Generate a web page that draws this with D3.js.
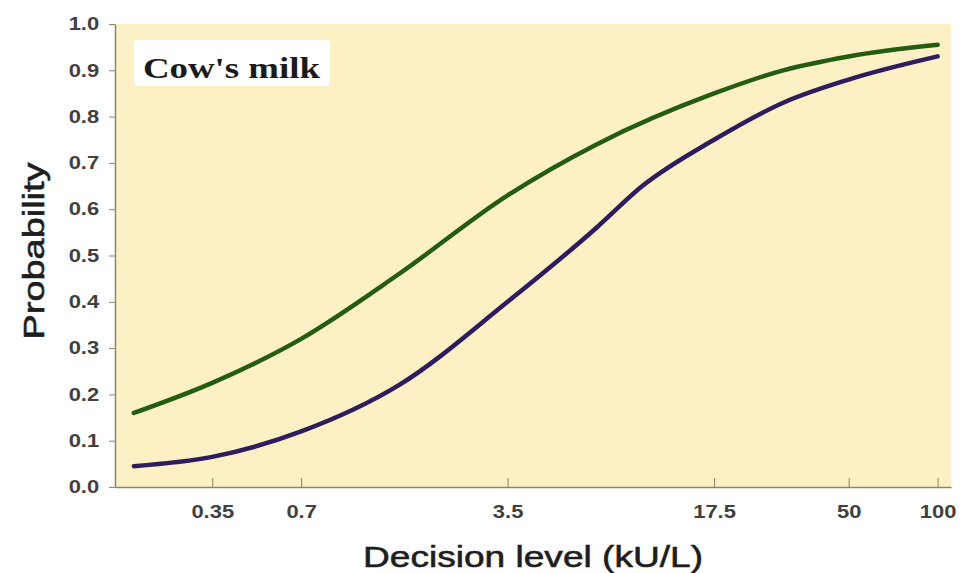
<!DOCTYPE html>
<html>
<head>
<meta charset="utf-8">
<script src="https://cdn.jsdelivr.net/npm/d3@7"></script>
<style>
  body { margin: 0; background: #fff; }
  svg { display: block; }
</style>
</head>
<body>
<div id="chart"></div>
<script>
var levelsGreen = [0.19, 0.35, 0.7, 1.5, 3.5, 7, 17.5, 30, 50, 100];
var probGreen = [0.16, 0.225, 0.32, 0.46, 0.63, 0.74, 0.85, 0.9, 0.93, 0.955];

var levelsPurple = [0.19, 0.35, 0.7, 1.5, 3.5, 7, 10, 17.5, 30, 50, 100];
var probPurple = [0.045, 0.065, 0.12, 0.22, 0.4, 0.56, 0.65, 0.75, 0.83, 0.88, 0.93];

var xTicks = [0.35, 0.7, 3.5, 17.5, 50, 100];
var xTickLabels = ["0.35", "0.7", "3.5", "17.5", "50", "100"];
var yTicks = [0, 0.1, 0.2, 0.3, 0.4, 0.5, 0.6, 0.7, 0.8, 0.9, 1.0];

var width = 967, height = 573;
var plot = { left: 115, right: 951, top: 24, bottom: 487 };

var svg = d3.select("#chart").append("svg")
    .attr("width", width)
    .attr("height", height);

var x = d3.scaleLog()
    .domain([0.164, 111])
    .range([plot.left, plot.right]);

var y = d3.scaleLinear()
    .domain([0, 1])
    .range([plot.bottom, plot.top]);

// yellow plot background
svg.append("rect")
    .attr("x", plot.left)
    .attr("y", plot.top)
    .attr("width", plot.right - plot.left)
    .attr("height", plot.bottom - plot.top)
    .attr("fill", "#fdf0c4");

// axes
var axisColor = "#8c8466";
var xAxis = svg.append("g")
    .attr("transform", "translate(0," + plot.bottom + ")")
    .call(d3.axisBottom(x)
        .tickValues(xTicks)
        .tickFormat(function (d, i) { return xTickLabels[i]; })
        .tickSize(-9)
        .tickSizeOuter(0)
        .tickPadding(18));
xAxis.select(".domain").attr("stroke", axisColor).attr("stroke-width", 1.5);
xAxis.selectAll(".tick line").attr("stroke", axisColor);

var yAxis = svg.append("g")
    .attr("transform", "translate(" + plot.left + ",0)")
    .call(d3.axisLeft(y)
        .tickValues(yTicks)
        .tickFormat(d3.format(".1f"))
        .tickSize(6)
        .tickSizeOuter(0)
        .tickPadding(7));
yAxis.select(".domain").attr("stroke", axisColor).attr("stroke-width", 1.5);
yAxis.selectAll(".tick line").attr("stroke", axisColor);

// the source image is a bit stretched sideways, so widen the tick labels
svg.selectAll(".tick text")
    .attr("font-family", "Liberation Sans, Arial, sans-serif")
    .attr("font-size", 18)
    .attr("font-weight", "bold")
    .attr("fill", "#404040")
    .attr("transform", "scale(1.22,1)");

// curves
var line = d3.line()
    .x(function (d) { return x(d[0]); })
    .y(function (d) { return y(d[1]); })
    .curve(d3.curveMonotoneX);

var series = [
    { color: "#245c12", pts: d3.zip(levelsGreen, probGreen) },
    { color: "#2e1c5c", pts: d3.zip(levelsPurple, probPurple) }
];

svg.selectAll(".curve")
    .data(series)
    .enter()
    .append("path")
    .attr("class", "curve")
    .attr("d", function (d) { return line(d.pts); })
    .attr("fill", "none")
    .attr("stroke", function (d) { return d.color; })
    .attr("stroke-width", 4.5)
    .attr("stroke-linecap", "round");

// label box
svg.append("rect")
    .attr("x", 134)
    .attr("y", 40)
    .attr("width", 196)
    .attr("height", 46)
    .attr("rx", 4)
    .attr("fill", "#ffffff");

svg.append("text")
    .attr("x", 143)
    .attr("y", 78)
    .attr("font-family", "Liberation Serif, Times New Roman, serif")
    .attr("font-weight", "bold")
    .attr("font-size", 29)
    .attr("textLength", 177)
    .attr("lengthAdjust", "spacingAndGlyphs")
    .attr("fill", "#1a1a1a")
    .text("Cow's milk");

// axis titles
svg.append("text")
    .attr("transform", "translate(44,251) rotate(-90)")
    .attr("text-anchor", "middle")
    .attr("font-family", "Liberation Sans, Arial, sans-serif")
    .attr("font-size", 30)
    .attr("textLength", 177)
    .attr("lengthAdjust", "spacingAndGlyphs")
    .attr("fill", "#1e1e1e")
    .attr("stroke", "#1e1e1e")
    .attr("stroke-width", 0.6)
    .text("Probability");

svg.append("text")
    .attr("x", 533)
    .attr("y", 567)
    .attr("text-anchor", "middle")
    .attr("font-family", "Liberation Sans, Arial, sans-serif")
    .attr("font-size", 30)
    .attr("textLength", 340)
    .attr("lengthAdjust", "spacingAndGlyphs")
    .attr("fill", "#1e1e1e")
    .attr("stroke", "#1e1e1e")
    .attr("stroke-width", 0.6)
    .text("Decision level (kU/L)");
</script>
</body>
</html>
